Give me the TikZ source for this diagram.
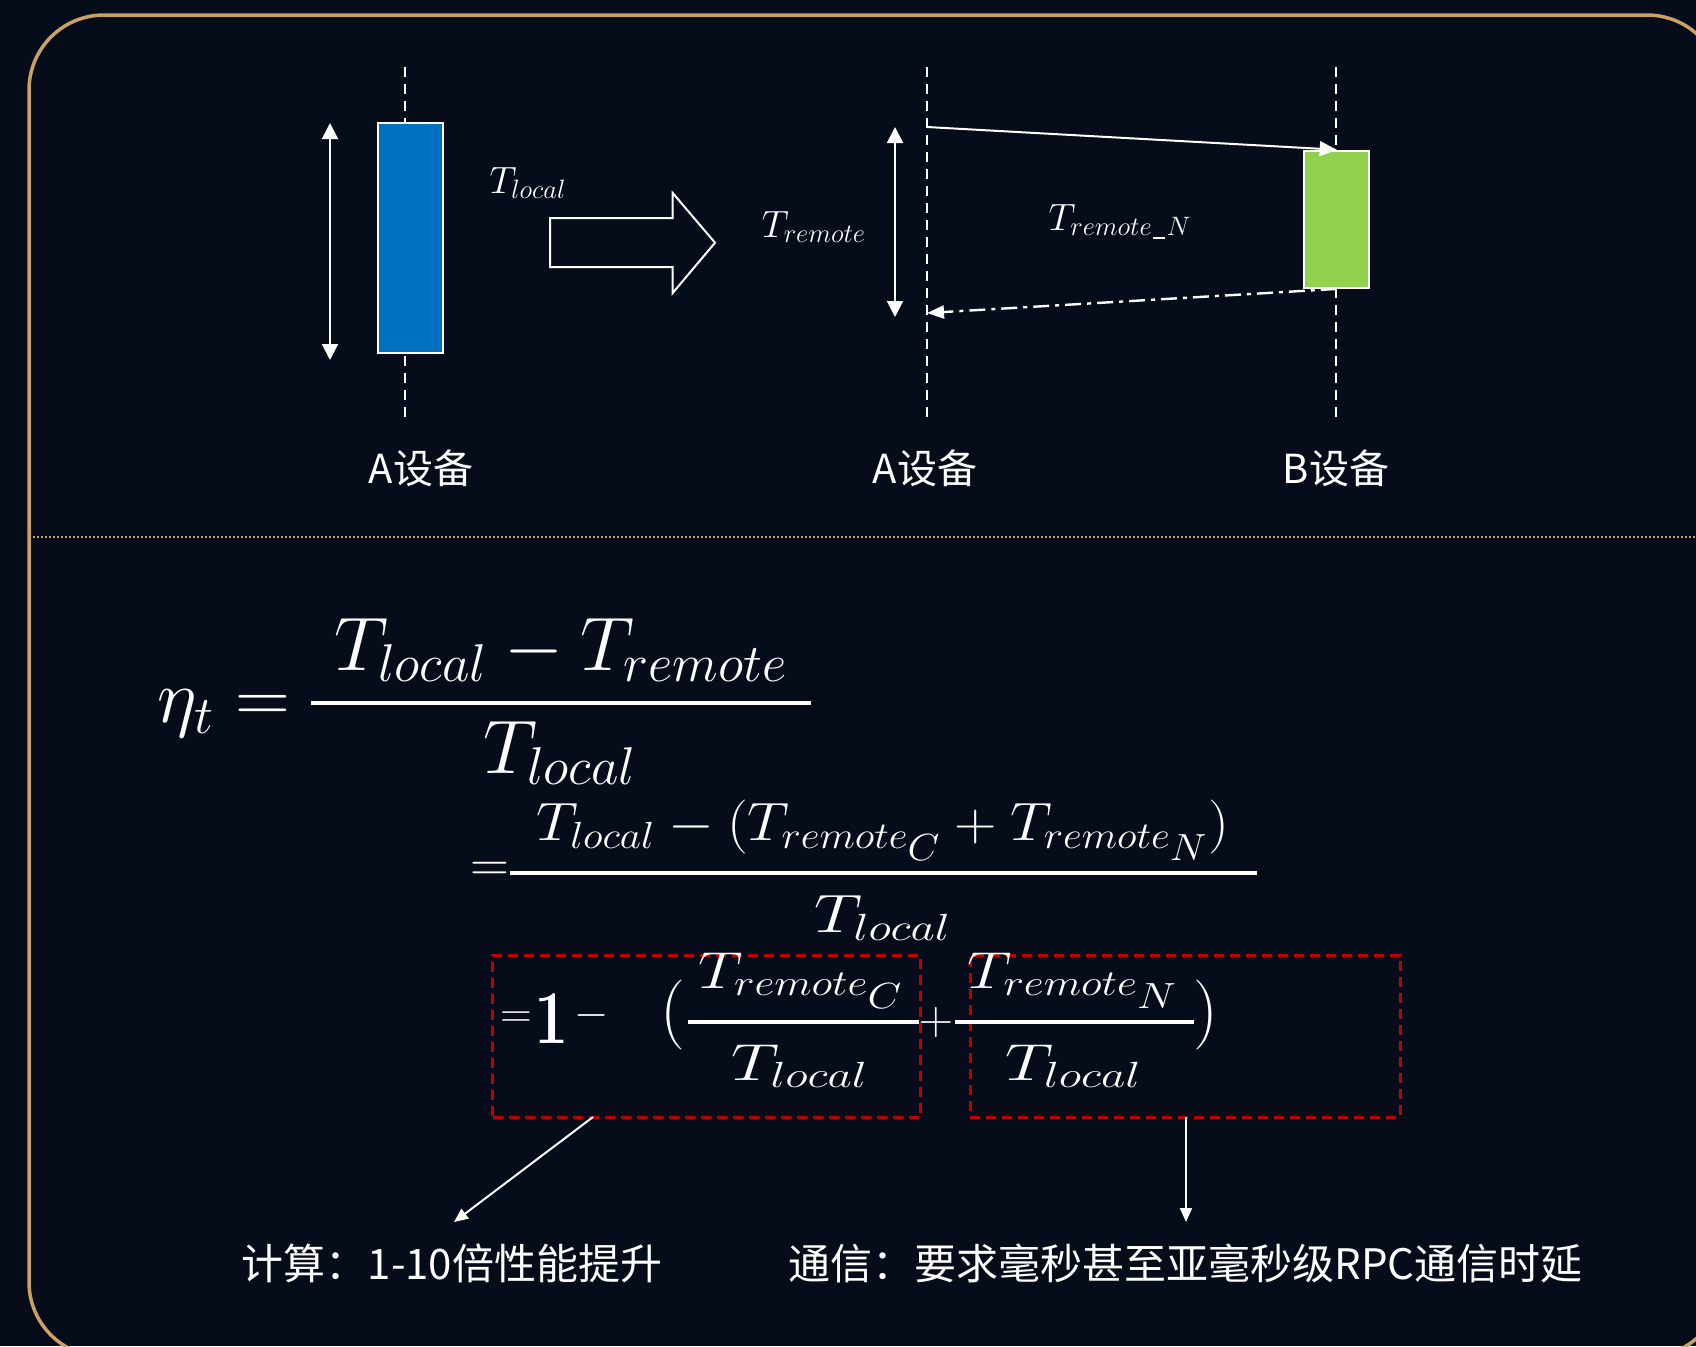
\RequirePackage{fix-cm}
\documentclass[tikz,border=0pt]{standalone}
\usepackage{fontspec}
\usepackage{graphicx}
\newfontfamily\cjk{Noto Sans CJK SC}
\usetikzlibrary{arrows.meta}
\definecolor{bgc}{HTML}{060C1A}
\definecolor{gold}{HTML}{C9A263}
\definecolor{boxblue}{HTML}{0070C0}
\definecolor{boxgreen}{HTML}{92D050}
\definecolor{dred}{HTML}{C00000}
\newcommand{\myfs}[1]{\fontsize{#1pt}{#1pt}\selectfont}
\newcommand{\usc}{\kern0.04em\rule[-0.08em]{0.32em}{0.05em}\kern0.04em}
\begin{document}
\begin{tikzpicture}[x=0.5pt,y=-0.5pt,
  lbl/.style={text=white, inner sep=0pt, outer sep=0pt},
  cjklbl/.style={text=white, inner sep=0pt, outer sep=0pt, font=\cjk\myfs{20}},
  bottxt/.style={text=white, inner sep=0pt, outer sep=0pt, font=\cjk\myfs{21}},
  life/.style={white, line width=0.7pt, dash pattern=on 5pt off 3.5pt},
  dbl/.style={white, line width=1pt, {Triangle[length=8pt,width=8pt]}-{Triangle[length=8pt,width=8pt]}},
  msg/.style={white, line width=1pt, -{Triangle[length=8.5pt,width=7.5pt]}},
  fbar/.style={white, line width=2pt},
  redbox/.style={draw=dred, line width=1.5pt, dash pattern=on 5pt off 3pt, inner sep=0pt, minimum height=81pt},
  callout/.style={white, line width=1pt, -{Triangle[length=7pt,width=6pt]}}
]
\useasboundingbox (0,0) rectangle (1696,1346);
\clip (0,0) rectangle (1696,1346);
\fill[bgc] (0,0) rectangle (1696,1346);
% frame
\draw[gold, line width=1.75pt, rounded corners=37.5pt] (29,15) rectangle (1722,1357);
\draw[gold, line width=1pt, dash pattern=on 1pt off 1pt] (29,537) -- (1696,537);

% ---------- top left: local execution ----------
\coordinate (a1t) at (405,67);
\coordinate (a1b) at (405,420);
\draw[life] (a1t) -- (a1b);
\node[draw=white, line width=1pt, fill=boxblue, minimum width=32.5pt, minimum height=115pt, inner sep=0pt] (blue) at (410.2,237.7) {};
\coordinate (dlA) at (330,123);
\coordinate (dlB) at (330,360);
\draw[dbl] (dlA) -- (dlB);
\node[lbl, anchor=base] (tloc) at (528,193) {\myfs{19}$T_{local}$};
\draw[white, line width=1pt] (550,218) -- (672.7,218) -- (672.7,193) -- (715,242.7) -- (672.7,293) -- (672.7,267) -- (550,267) -- cycle;
\node[cjklbl] (labA1) at (421,468) {A设备};

% ---------- top right: remote execution ----------
\coordinate (a2t) at (927,67);
\coordinate (a2b) at (927,420);
\coordinate (bt) at (1336,67);
\coordinate (bb) at (1336,420);
\draw[life] (a2t) -- (a2b);
\draw[life] (bt) -- (bb);
\node[draw=white, line width=1pt, fill=boxgreen, minimum width=32.25pt, minimum height=68.6pt, inner sep=0pt] (green) at (1336.7,219.3) {};
\coordinate (req) at (927,127);
\coordinate (resp) at (927,313);
\draw[msg] (req) -- (green.north);
\draw[white, line width=1.2pt, dash pattern=on 8pt off 3pt on 2pt off 3pt, -{Triangle[length=8.5pt,width=6.5pt]}] (green.south) -- (resp);
\coordinate (drA) at (895,127);
\coordinate (drB) at (895,317);
\draw[dbl] (drA) -- (drB);
\node[lbl, anchor=base] (trem) at (814,237) {\myfs{19}$T_{remote}$};
\node[lbl, anchor=base] (tremN) at (1120,230) {\myfs{19}$T_{remote\usc N}$};
\node[cjklbl] (labA2) at (925,468) {A设备};
\node[cjklbl] (labB) at (1336,468) {B设备};

% ---------- formula line 1 ----------
\node[lbl, anchor=base east] (eta) at (290,722) {\myfs{38}$\eta_t =$};
\node[lbl, anchor=base] (num1) at (561,670) {\myfs{38}$T_{local} - T_{remote}$};
\coordinate (f1l) at (311,703);
\coordinate (f1r) at (811,703);
\draw[fbar] (f1l) -- (f1r);
\node[lbl, anchor=base] (den1) at (560,773) {\myfs{38}$T_{local}$};

% ---------- formula line 2 ----------
\node[lbl, anchor=base] (eq2) at (490,881) {\myfs{27}$=$};
\node[lbl, anchor=base] (num2) at (883,840) {\myfs{27}\scalebox{1.09}[1]{$T_{local}-(T_{remote_{\scriptstyle C}}+T_{remote_{\scriptstyle N}})$}};
\coordinate (f2l) at (510,873);
\coordinate (f2r) at (1257,873);
\draw[fbar] (f2l) -- (f2r);
\node[lbl, anchor=base] (den2) at (883,932) {\myfs{27}\scalebox{1.25}[1]{$T_{local}$}};

% ---------- formula line 3 ----------
\node[redbox, minimum width=213.75pt] (box1) at (706.25,1036) {};
\node[redbox, minimum width=215pt] (box2) at (1185,1036) {};
\node[lbl, anchor=base] (eq3) at (516,1027) {\myfs{22}$=$};
\node[lbl, anchor=base] (one) at (552,1043) {\myfs{38}\scalebox{0.8}[1]{\textbf{1}}};
\node[lbl, anchor=base] (minus3) at (592,1026) {\myfs{22}$-$};
\node[lbl] (lpar) at (673,1015) {\myfs{35}$($};
\node[lbl, anchor=base] (num3a) at (801,988) {\myfs{26}\scalebox{1.2}[1]{$T_{remote_{\scriptstyle C}}$}};
\coordinate (f3al) at (687.5,1022);
\coordinate (f3ar) at (919,1022);
\draw[fbar] (f3al) -- (f3ar);
\node[lbl, anchor=base] (den3a) at (800,1080) {\myfs{26}\scalebox{1.3}[1]{$T_{local}$}};
\node[lbl] (plus3) at (936,1022) {\myfs{24}$+$};
\node[lbl, anchor=base] (num3b) at (1073,988) {\myfs{26}\scalebox{1.2}[1]{$T_{remote_{\scriptstyle N}}$}};
\coordinate (f3bl) at (955,1022);
\coordinate (f3br) at (1194,1022);
\draw[fbar] (f3bl) -- (f3br);
\node[lbl, anchor=base] (den3b) at (1073.5,1080) {\myfs{26}\scalebox{1.3}[1]{$T_{local}$}};
\node[lbl] (rpar) at (1206,1015) {\myfs{35}$)$};

% ---------- callouts ----------
\coordinate (c1) at (593,1117);
\coordinate (t1) at (454,1222);
\coordinate (c2) at (1186,1117);
\coordinate (t2) at (1186,1222);
\draw[callout] (c1) -- (t1);
\draw[callout] (c2) -- (t2);
\node[bottxt] (txt1) at (452,1263) {计算：1-10倍性能提升};
\node[bottxt] (txt2) at (1185.5,1263) {通信：要求毫秒甚至亚毫秒级RPC通信时延};
\end{tikzpicture}
\end{document}
